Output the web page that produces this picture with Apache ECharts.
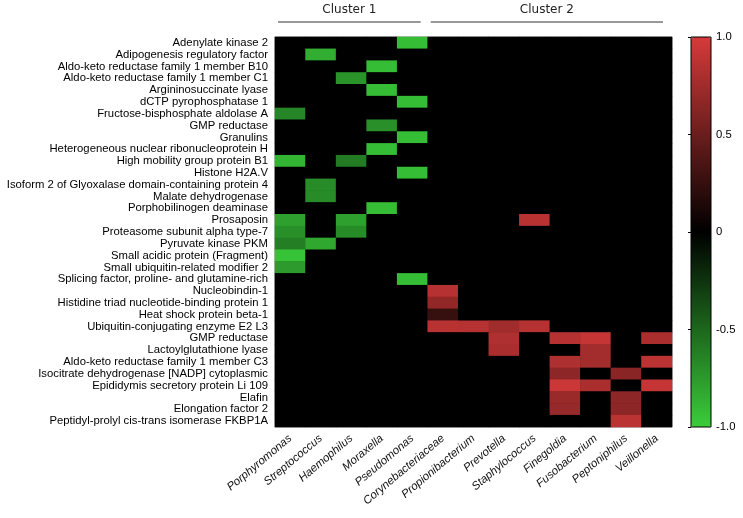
<!DOCTYPE html>
<html>
<head>
<meta charset="utf-8">
<script src="https://cdn.jsdelivr.net/npm/echarts/dist/echarts.min.js"></script>
</head>
<body style="margin:0;background:#fff">
<div id="chart" style="width:743px;height:518px"></div>
<script>
// ---- data ----
const bacteria = ['Porphyromonas','Streptococcus','Haemophilus','Moraxella','Pseudomonas',
  'Corynebacteriaceae','Propionibacterium','Prevotella','Staphylococcus','Finegoldia',
  'Fusobacterium','Peptoniphilus','Veillonella'];

const proteins = [
  'Adenylate kinase 2',
  'Adipogenesis regulatory factor',
  'Aldo-keto reductase family 1 member B10',
  'Aldo-keto reductase family 1 member C1',
  'Argininosuccinate lyase',
  'dCTP pyrophosphatase 1',
  'Fructose-bisphosphate aldolase A',
  'GMP reductase',
  'Granulins',
  'Heterogeneous nuclear ribonucleoprotein H',
  'High mobility group protein B1',
  'Histone H2A.V',
  'Isoform 2 of Glyoxalase domain-containing protein 4',
  'Malate dehydrogenase',
  'Porphobilinogen deaminase',
  'Prosaposin',
  'Proteasome subunit alpha type-7',
  'Pyruvate kinase PKM',
  'Small acidic protein (Fragment)',
  'Small ubiquitin-related modifier 2',
  'Splicing factor, proline- and glutamine-rich',
  'Nucleobindin-1',
  'Histidine triad nucleotide-binding protein 1',
  'Heat shock protein beta-1',
  'Ubiquitin-conjugating enzyme E2 L3',
  'GMP reductase',
  'Lactoylglutathione lyase',
  'Aldo-keto reductase family 1 member C3',
  'Isocitrate dehydrogenase [NADP] cytoplasmic',
  'Epididymis secretory protein Li 109',
  'Elafin',
  'Elongation factor 2',
  'Peptidyl-prolyl cis-trans isomerase FKBP1A'
];

// correlation values, one row per protein, one column per bacterium
const values = [
  [0,0,0,0,-0.92,0,0,0,0,0,0,0,0],
  [0,-0.85,0,0,0,0,0,0,0,0,0,0,0],
  [0,0,0,-0.92,0,0,0,0,0,0,0,0,0],
  [0,0,-0.72,0,0,0,0,0,0,0,0,0,0],
  [0,0,0,-0.92,0,0,0,0,0,0,0,0,0],
  [0,0,0,0,-0.92,0,0,0,0,0,0,0,0],
  [-0.65,0,0,0,0,0,0,0,0,0,0,0,0],
  [0,0,0,-0.7,0,0,0,0,0,0,0,0,0],
  [0,0,0,0,-0.92,0,0,0,0,0,0,0,0],
  [0,0,0,-0.92,0,0,0,0,0,0,0,0,0],
  [-0.88,0,-0.6,0,0,0,0,0,0,0,0,0,0],
  [0,0,0,0,-0.92,0,0,0,0,0,0,0,0],
  [0,-0.68,0,0,0,0,0,0,0,0,0,0,0],
  [0,-0.68,0,0,0,0,0,0,0,0,0,0,0],
  [0,0,0,-0.92,0,0,0,0,0,0,0,0,0],
  [-0.78,0,-0.78,0,0,0,0,0,0.86,0,0,0,0],
  [-0.7,0,-0.68,0,0,0,0,0,0,0,0,0,0],
  [-0.62,-0.82,0,0,0,0,0,0,0,0,0,0,0],
  [-0.95,0,0,0,0,0,0,0,0,0,0,0,0],
  [-0.75,0,0,0,0,0,0,0,0,0,0,0,0],
  [0,0,0,0,-0.92,0,0,0,0,0,0,0,0],
  [0,0,0,0,0,0.85,0,0,0,0,0,0,0],
  [0,0,0,0,0,0.68,0,0,0,0,0,0,0],
  [0,0,0,0,0,0.25,0,0,0,0,0,0,0],
  [0,0,0,0,0,0.86,0.85,0.75,0.85,0,0,0,0],
  [0,0,0,0,0,0,0,0.82,0,0.85,0.92,0,0.8],
  [0,0,0,0,0,0,0,0.8,0,0,0.76,0,0],
  [0,0,0,0,0,0,0,0,0,0.82,0.76,0,0.88],
  [0,0,0,0,0,0,0,0,0,0.66,0,0.64,0],
  [0,0,0,0,0,0,0,0,0,0.95,0.8,0,0.92],
  [0,0,0,0,0,0,0,0,0,0.72,0,0.66,0],
  [0,0,0,0,0,0,0,0,0,0.7,0,0.66,0],
  [0,0,0,0,0,0,0,0,0,0,0,0.88,0]
];

const colorbarTicks = [-1, -0.5, 0, 0.5, 1];
const clusters = [
  { name: 'Cluster 1', from: 0, to: 4 },
  { name: 'Cluster 2', from: 5, to: 12 }
];

// ---- build ----
const heat = [];
values.forEach((row, r) => row.forEach((v, c) => heat.push([c, r, v])));

const chart = echarts.init(document.getElementById('chart'));

const G = { left: 275, top: 37, width: 397, height: 390 };
const CB = { left: 691, top: 37, width: 20, height: 390 };

const colW = G.width / bacteria.length;
const graphics = [];
clusters.forEach((cl, i) => {
  const x0 = G.left + cl.from * colW + 3;
  const x1 = G.left + (cl.to + 1) * colW - (i === 0 ? 7 : 9);
  graphics.push({
    type: 'line', shape: { x1: x0, y1: 22, x2: x1, y2: 22 },
    style: { stroke: '#333', lineWidth: 1 }
  });
  graphics.push({
    type: 'text', x: (x0 + x1) / 2, y: 10,
    style: { text: cl.name, fill: '#222', font: '12px "DejaVu Sans"', align: 'center', verticalAlign: 'middle' }
  });
});

chart.setOption({
  animation: false,
  backgroundColor: '#fff',
  grid: [
    { left: G.left, top: G.top, width: G.width, height: G.height, show: true,
      backgroundColor: '#000', borderColor: '#777', borderWidth: 1 },
    { left: CB.left, top: CB.top, width: CB.width, height: CB.height, show: true, z: 10,
      backgroundColor: 'transparent', borderColor: '#000', borderWidth: 1 }
  ],
  xAxis: [
    { type: 'category', gridIndex: 0, data: bacteria,
      axisLine: { show: false }, axisTick: { show: false }, splitLine: { show: false },
      axisLabel: { rotate: 40, interval: 0, margin: 10, fontSize: 11.4, fontStyle: 'italic',
        fontFamily: 'Liberation Sans', color: '#111' } },
    { type: 'value', gridIndex: 1, show: false, min: 0, max: 1 }
  ],
  yAxis: [
    { type: 'category', gridIndex: 0, data: proteins, inverse: true,
      axisLine: { show: false }, axisTick: { show: false }, splitLine: { show: false },
      axisLabel: { interval: 0, margin: 7, fontSize: 11.3, fontFamily: 'Liberation Sans', color: '#000' } },
    { type: 'value', gridIndex: 1, min: colorbarTicks[0], max: colorbarTicks[colorbarTicks.length - 1],
      interval: 0.5, position: 'right', z: 11,
      axisLine: { show: false }, splitLine: { show: false },
      axisTick: { show: true, inside: true, length: 3, lineStyle: { color: '#000' } },
      axisLabel: { margin: 5, fontSize: 11.3, fontFamily: 'Liberation Sans', color: '#000',
        formatter: v => (v === 0 ? '0' : (Math.abs(v) === 1 ? v.toFixed(1) : String(v))) } }
  ],
  visualMap: {
    type: 'continuous', min: -1, max: 1, seriesIndex: 0,
    orient: 'vertical', left: CB.left, top: CB.top, padding: 0,
    itemWidth: CB.width, itemHeight: CB.height,
    calculable: false, hoverLink: false, showLabel: false,
    inRange: { color: ['#3acd3a', '#000000', '#d63a3a'] }
  },
  graphic: graphics,
  series: [{
    type: 'heatmap', xAxisIndex: 0, yAxisIndex: 0, data: heat,
    itemStyle: { borderWidth: 0 },
    emphasis: { disabled: true }
  }]
});
</script>
</body>
</html>
